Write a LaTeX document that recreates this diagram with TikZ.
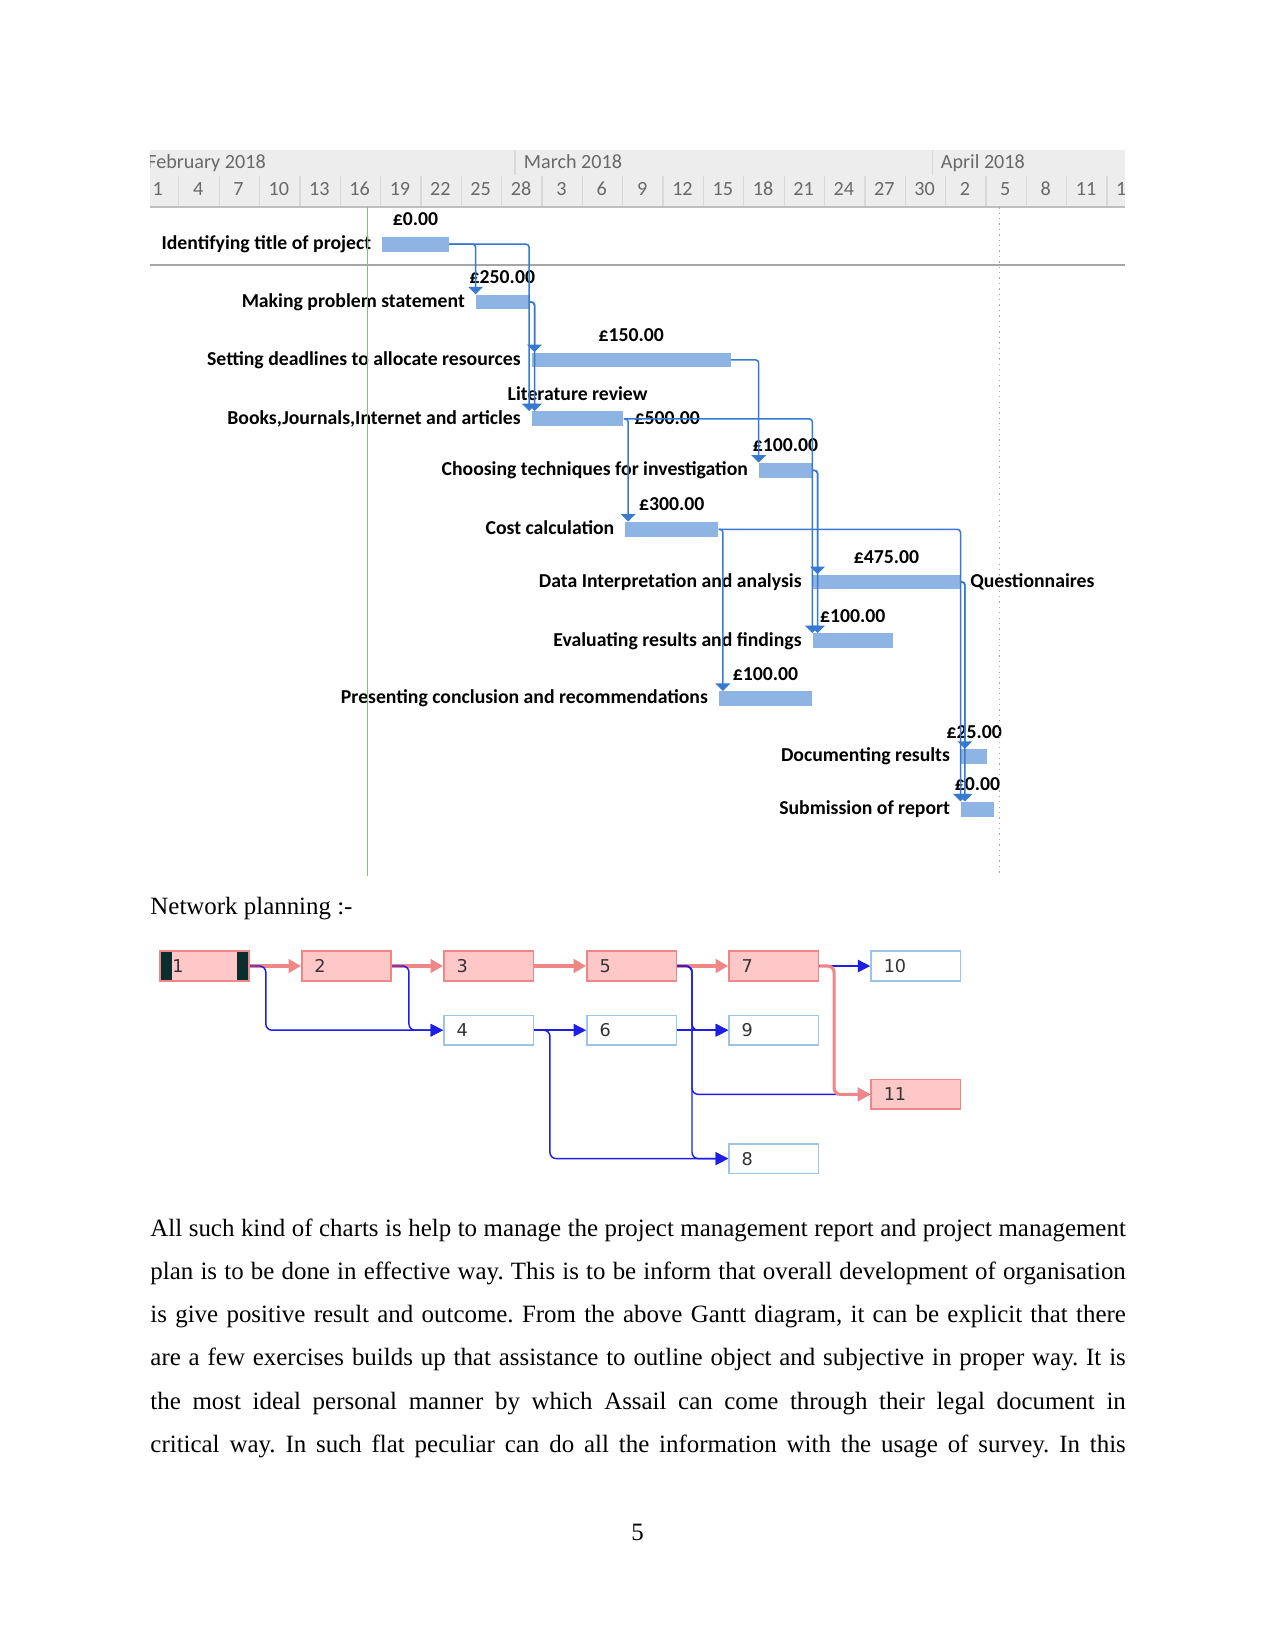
\documentclass[tikz,border=0pt]{standalone}
\usepackage{fontspec}
\setmainfont{Liberation Serif}
\newfontfamily\ganttfont{Carlito}
\newfontfamily\netfont{DejaVu Sans}
\usetikzlibrary{arrows.meta}
\frenchspacing

\definecolor{barblue}{RGB}{141,180,226}
\definecolor{linkblue}{RGB}{55,122,208}
\definecolor{headbg}{RGB}{237,237,237}
\definecolor{headtxt}{RGB}{105,105,105}
\definecolor{todaygreen}{RGB}{125,195,125}
\definecolor{critfill}{RGB}{255,200,200}
\definecolor{critline}{RGB}{240,135,135}
\definecolor{netblue}{RGB}{30,30,230}
\definecolor{boxblue}{RGB}{157,195,230}
\definecolor{startdark}{RGB}{10,45,45}

\begin{document}
\begin{tikzpicture}[x=0.50684pt, y=-0.50684pt,
	bar/.style={fill=barblue, minimum height=7.1pt, inner sep=0pt, anchor=west},
	task/.style={font=\ganttfont\bfseries\fontsize{9.5}{11}\selectfont, inner sep=0pt, anchor=base east},
	cost/.style={font=\ganttfont\bfseries\fontsize{9.5}{11}\selectfont, inner sep=0pt, anchor=base},
	link/.style={draw=linkblue, line width=0.75pt, rounded corners=1.5pt, -{Triangle[width=7pt,length=3.6pt]}},
	dayno/.style={font=\ganttfont\fontsize{9.7}{11}\selectfont, text=headtxt, inner sep=0pt, anchor=base},
	nbox/.style={rectangle, minimum height=14.2pt, text width=30.9pt, inner xsep=6.1pt, inner ysep=0pt, align=left, anchor=west, line width=0.8pt, font=\netfont\fontsize{8.5}{10}\selectfont, text=black!80},
	crit/.style={nbox, fill=critfill, draw=critline},
	free/.style={nbox, fill=white, draw=boxblue},
	start/.style={crit, path picture={
		\fill[startdark] (path picture bounding box.south west) rectangle ([xshift=5.8pt]path picture bounding box.north west);
		\fill[startdark] (path picture bounding box.south east) rectangle ([xshift=-5.8pt]path picture bounding box.north east);}},
	critarrow/.style={draw=critline, line width=1.5pt, rounded corners=3pt, -{Triangle[width=6.5pt,length=6pt]}},
	netarrow/.style={draw=netblue, line width=0.7pt, rounded corners=3pt, -{Triangle[width=6pt,length=6pt]}}]

	\useasboundingbox (0,0) rectangle (1212,1568);

	% timescale
	\fill[headbg] (143,143) rectangle (1069,197);
	\begin{scope}
		\clip (143,143) rectangle (1069,197);
		\draw[gray!30, line width=0.6pt] (489.5,143) -- (489.5,166);
		\draw[gray!30, line width=0.6pt] (885.8,143) -- (885.8,166);
		\foreach \k in {1, ..., 24}
		\draw[gray!30, line width=0.6pt] (131.6+38.35*\k,167) -- ++(0,30);
		\node[dayno, anchor=base west] (feb) at (139.6,160) {February 2018};
		\node[dayno, anchor=base west] (mar) at (497.5,160) {March 2018};
		\node[dayno, anchor=base west] (apr) at (893.8,160) {April 2018};
		\foreach \d [count=\k from 0] in {1,4,7,10,13,16,19,22,25,28,3,6,9,12,15,18,21,24,27,30,2,5,8,11,14}
		\node[dayno] (d\k) at (150+38.35*\k,186) {\d};
	\end{scope}
	\draw[gray!50, line width=0.8pt] (143,197) -- (1069,197);
	\draw[gray!70, line width=0.8pt] (143,252) -- (1069,252);

	% tasks
	\foreach \i/\xa/\xb/\y in {1/363/426/232, 2/452/502/287, 3/505/694/342, 4/505/592/398, 5/721/771/447, 6/594/682/503, 7/772/912/553, 8/772/848/609, 9/683/771/664, 10/913/938/719, 11/913/944/769}
	\node[bar, minimum width={(\xb-\xa)*0.50684pt}] (b\i) at (\xa,\y) {};

	\foreach \i/\txt in {1/{Identifying title of project}, 2/{Making problem statement}, 3/{Setting deadlines to allocate resources}, 4/{Books,Journals,Internet and articles}, 5/{Choosing techniques for investigation}, 6/{Cost calculation}, 7/{Data Interpretation and analysis}, 8/{Evaluating results and findings}, 9/{Presenting conclusion and recommendations}, 10/{Documenting results}, 11/{Submission of report}}
	\node[task] (t\i) at ([xshift=-5pt,yshift=-2.5pt]b\i.west) {\txt};

	\foreach \i/\amt in {1/0.00, 2/250.00, 3/150.00, 5/100.00, 6/300.00, 7/475.00, 8/100.00, 9/100.00, 10/25.00, 11/0.00}
	\node[cost] (c\i) at ([yshift=5.2pt]b\i.north) {£\amt};
	\node[cost] (lit) at ([yshift=5.2pt]b4.north) {Literature review};
	\node[cost, anchor=base west] (c4) at ([xshift=5pt,yshift=-2.5pt]b4.east) {£500.00};
	\node[cost, anchor=base west] (quest) at ([xshift=4.5pt,yshift=-2.5pt]b7.east) {Questionnaires};

	\draw[todaygreen, line width=0.6pt] (349,197) -- (349,832);
	\draw[gray!70, dotted, line width=0.6pt] (950,197) -- (950,832);

	\draw[link] (b1.east) -| (b2.north west);
	\draw[link] (b1.east) -| (b2.east |- b4.north);
	\draw[link] (b2.east) -| ([xshift=1.5pt]b3.north west);
	\draw[link] (b2.east) -| ([xshift=1.5pt]b4.north west);
	\draw[link] (b3.east) -| (b5.north west);
	\draw[link] (b4.east) -| ([xshift=1.5pt]b6.north west);
	\draw[link] (b4.east) -| (b8.north west);
	\draw[link] (b5.east) -| ([xshift=2.5pt]b7.north west);
	\draw[link] (b5.east) -| ([xshift=2.5pt]b8.north west);
	\draw[link] (b6.east) -| ([xshift=2pt]b9.north west);
	\draw[link] (b6.east) -| (b7.east |- b11.north);
	\draw[link] (b7.east) -| ([xshift=2pt]b10.north west);
	\draw[link] (b7.east) -| ([xshift=2pt]b11.north west);

	\node[anchor=base west, inner sep=0pt, font=\fontsize{12}{14}\selectfont] (nettitle) at (142.6,869) {Network planning :-};

	% network
	\node[start] (n1) at (151,918) {1};
	\node[crit] (n2) at (286,918) {2};
	\node[crit] (n3) at (421,918) {3};
	\node[crit] (n5) at (557,918) {5};
	\node[crit] (n7) at (692,918) {7};
	\node[free] (n10) at (827,918) {10};
	\node[free] (n4) at (421,979) {4};
	\node[free] (n6) at (557,979) {6};
	\node[free] (n9) at (692,979) {9};
	\node[crit] (n11) at (827,1040) {11};
	\node[free] (n8) at (692,1101) {8};

	\draw[critarrow] (n1) -- (n2);
	\draw[critarrow] (n2) -- (n3);
	\draw[critarrow] (n3) -- (n5);
	\draw[critarrow] (n5) -- (n7);

	\draw[netarrow] (n1.east) -- ++(15,0) |- (n4.west);
	\draw[netarrow] (n2.east) -- ++(16,0) |- (n4.west);
	\draw[netarrow] (n4) -- (n6);
	\draw[netarrow] (n4.east) -- ++(15,0) |- (n8.west);
	\draw[netarrow] (n5.east) -- ++(14,0) |- (n9.west);
	\draw[netarrow] (n5.east) -- ++(14,0) |- (n11.west);
	\draw[netarrow] (n5.east) -- ++(14,0) |- (n8.west);
	\draw[netarrow] (n6) -- (n9);
	\draw[netarrow] (n7) -- (n10);

	\draw[critarrow] (n7.east) -- ++(14,0) |- (n11.west);

	% text
	\node[anchor=base west, text width=6.5in, align=justify, inner sep=0pt, font=\fontsize{12}{20.78}\selectfont] (para) at (142.6,1175) {\parfillskip=0pt All such kind of charts is help to manage the project management report and project management\linebreak plan is to be done in effective way. This is to be inform that overall development of organisation\linebreak is give positive result and outcome. From the above Gantt diagram, it can be explicit that there\linebreak are a few exercises builds up that assistance to outline object and subjective in proper way. It is\linebreak the most ideal personal manner by which Assail can come through their legal document in\linebreak critical way. In such flat peculiar can do all the information with the usage of survey. In this\par};

	\node[anchor=base, inner sep=0pt, font=\fontsize{12}{14}\selectfont] (pageno) at (606,1464) {5};

\end{tikzpicture}
\end{document}
